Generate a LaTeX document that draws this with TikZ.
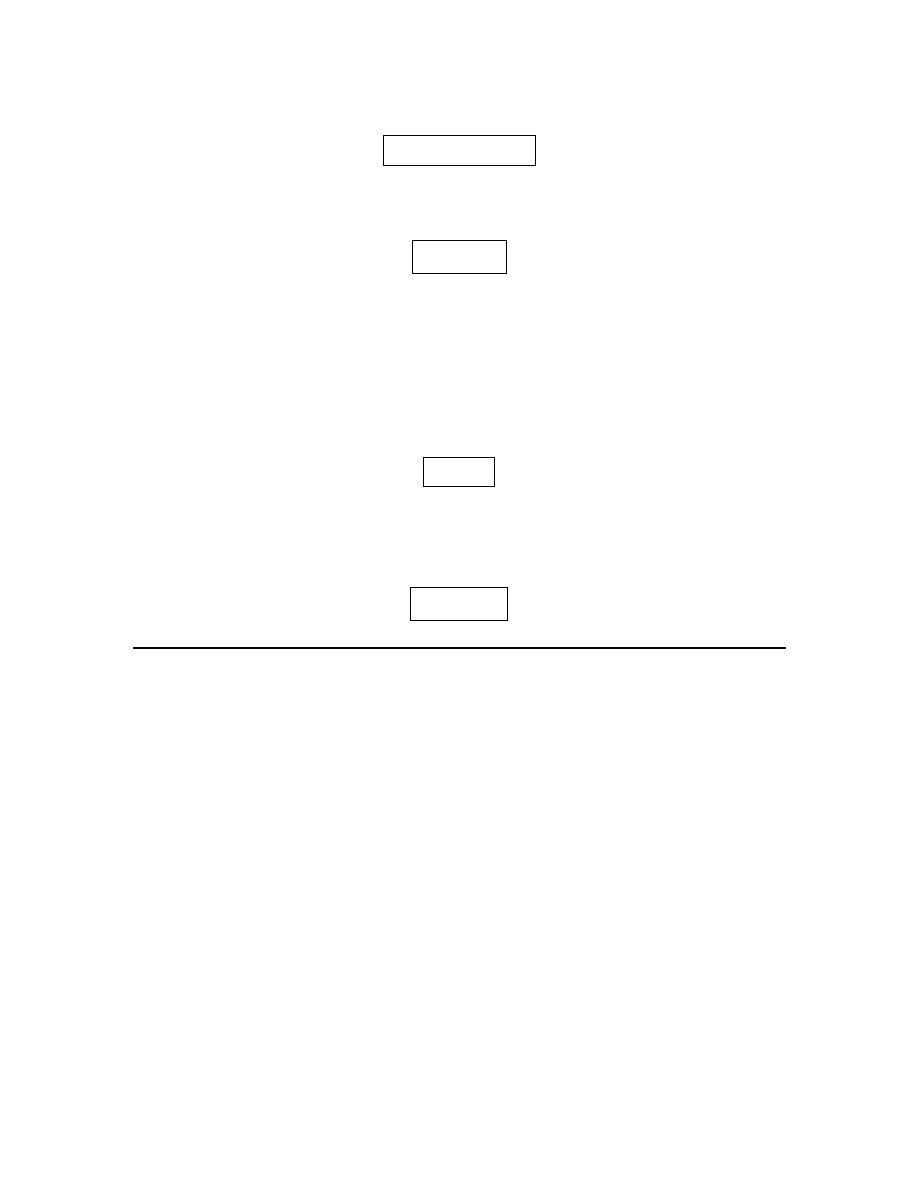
\documentclass[tikz,border=0pt]{standalone}
\begin{document}
\begin{tikzpicture}[x=1pt,y=-1pt,
  emptybox/.style={draw=black,line width=1pt,inner sep=0pt,anchor=north west},
  rule/.style={draw=black,line width=2pt}]
\useasboundingbox[fill=white] (0,0) rectangle (918,1188);
\node[emptybox,minimum width=152pt,minimum height=29pt] (b1) at (383,135.5) {};
\node[emptybox,minimum width=93.5pt,minimum height=32.5pt] (b2) at (412.2,240) {};
\node[emptybox,minimum width=70.5pt,minimum height=28.5pt] (b3) at (423.3,457.3) {};
\node[emptybox,minimum width=97pt,minimum height=33pt] (b4) at (410.3,587.3) {};
\coordinate (l1) at (133,648);
\coordinate (l2) at (786,648);
\draw[rule] (l1) -- (l2);
\end{tikzpicture}
\end{document}
